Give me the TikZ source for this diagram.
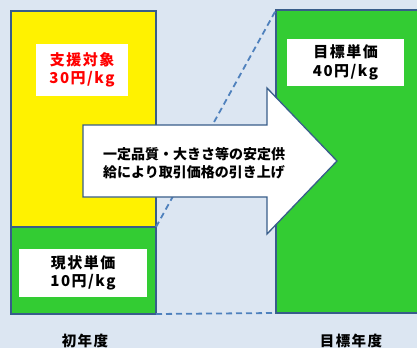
\documentclass[tikz,border=0pt]{standalone}
\usepackage{fontspec}
\setmainfont{Noto Sans CJK JP}
\newfontfamily\jpwide{Noto Sans CJK JP}[LetterSpace=10]
\usetikzlibrary{calc}
\definecolor{bgblue}{HTML}{DCE6F2}
\definecolor{edgeblue}{HTML}{385D8A}
\definecolor{dashblue}{HTML}{4F81BD}
\definecolor{limegreen}{HTML}{33CC33}

\begin{document}
\begin{tikzpicture}[x=1pt,y=-1pt,
  box/.style={draw=edgeblue, line width=1.3pt, anchor=north west, inner sep=0pt, outer sep=0pt},
  lbl/.style={fill=white, align=center, inner sep=0pt, font=\jpwide\bfseries\fontsize{15}{18.5}\selectfont},
  guide/.style={dashblue, line width=1.8pt, dash pattern=on 6pt off 4pt},
  yr/.style={font=\jpwide\bfseries\fontsize{14.5}{18}\selectfont}]
\useasboundingbox (0,0) rectangle (417,348);
\fill[bgblue] (0,0) rectangle (417,348);
% boxes
\node[box, fill=limegreen, minimum width=150, minimum height=303] (goal) at (276,10) {};
\node[box, fill=yellow, minimum width=145, minimum height=216] (supp) at (11,11) {};
\node[box, fill=limegreen, minimum width=145, minimum height=87] (curr) at (11,227) {};
% dashed guides
\draw[guide] (curr.north east) -- (goal.north west);
\draw[guide] (curr.south east) -- (goal.south west);
% arrow
\draw[edgeblue, fill=white, line width=1.3pt] (83,125) -- (267,125) -- (267,88) -- (337,161)
  -- (267,234) -- (267,197) -- (83,197) -- cycle;
% labels
\node[lbl, text=red, minimum width=92, minimum height=52] (supptxt) at (82,70) {支援対象\\30円/kg};
\node[lbl, minimum width=128, minimum height=48] (currtxt) at (83,273) {現状単価\\10円/kg};
\node[lbl, minimum width=117, minimum height=47] (goaltxt) at (345.5,62.5) {目標単価\\40円/kg};
\node[align=center, font=\bfseries\fontsize{14}{18}\selectfont] (arrtxt) at (194,163)
  {一定品質・大きさ等の安定供\\給により取引価格の引き上げ};
\node[yr] (y1) at (85,341) {初年度};
\node[yr] (y2) at (351,341) {目標年度};
\end{tikzpicture}
\end{document}
